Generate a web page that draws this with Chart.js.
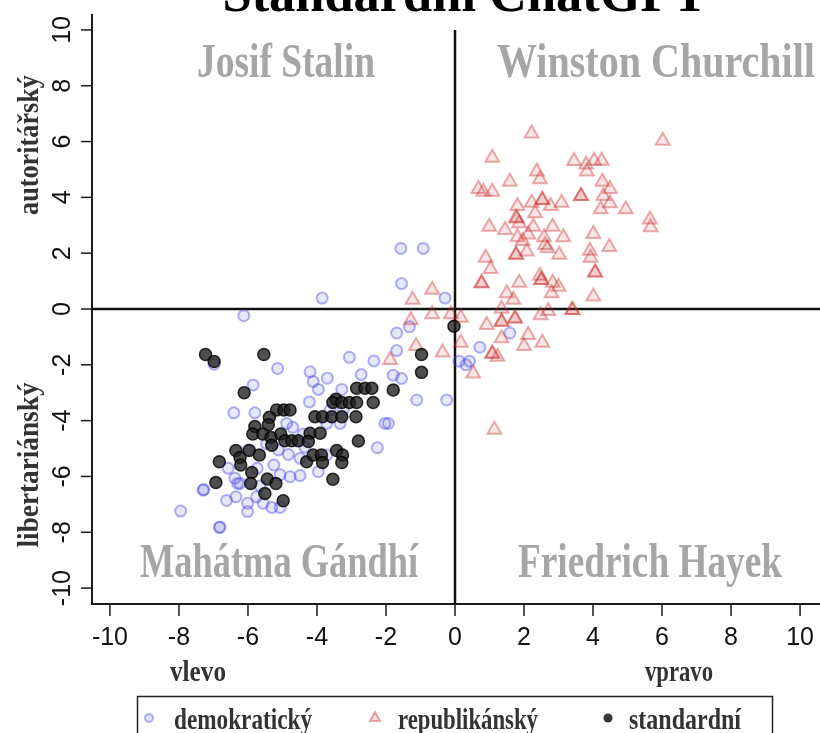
<!DOCTYPE html>
<html>
<head>
<meta charset="utf-8">
<script src="https://cdn.jsdelivr.net/npm/chart.js@4.4.1/dist/chart.umd.min.js"></script>
<style>
  html, body { margin: 0; padding: 0; background: #fff; }
  canvas { display: block; }
</style>
</head>
<body>
<canvas id="compassChart" width="820" height="733"></canvas>
<script>
// Data (x = vlevo/vpravo, y = libertariánský/autoritářský)
const titleText = "Standardní ChatGPT";
const seriesNames = ["demokratický", "republikánský", "standardní"];
const quadrantNames = ["Josif Stalin", "Winston Churchill", "Mahátma Gándhí", "Friedrich Hayek"];
const xTicks = [-10, -8, -6, -4, -2, 0, 2, 4, 6, 8, 10];
const yTicks = [-10, -8, -6, -4, -2, 0, 2, 4, 6, 8, 10];

const demX = [-1.57, -0.92, -1.55, -0.29, -1.32, -1.69, 1.59, -1.69, 0.72, 0.12, 0.32, 0.42, -1.79, -1.55, -1.11, -0.24, -2.03, -1.93,
  -3.85, -6.12, -6.98, -5.14, -4.20, -4.11, -3.96, -5.85, -6.41, -5.80, -4.22, -4.88, -4.70, -4.39, -5.46, -5.12, -4.83, -4.49,
  -5.99, -6.57, -5.73, -5.25, -3.96, -6.38, -6.23, -5.07, -4.78, -4.49, -5.65, -7.30, -6.35, -6.62, -5.75, -6.01, -6.01, -5.56,
  -5.31, -5.07, -7.95, -6.83, -3.06, -2.35, -3.70, -2.72, -3.28, -3.72, -3.33, -3.62, -3.24, -2.25, -3.72, -4.35,
  -7.28, -6.81, -6.30];
const demY = [2.17, 2.17, 0.91, 0.39, -0.64, -0.86, -0.86, -1.49, -1.37, -1.87, -2.00, -1.87, -2.37, -2.49, -3.26, -3.26, -4.10, -4.10,
  0.39, -0.24, -1.98, -2.13, -2.25, -2.60, -2.88, -2.72, -3.72, -3.72, -3.33, -4.10, -4.24, -4.48, -4.82, -5.05, -5.21, -5.35,
  -5.05, -5.71, -5.71, -5.59, -5.83, -6.06, -6.25, -5.94, -6.01, -5.97, -6.34, -6.49, -6.73, -6.86, -6.73, -6.96, -7.26, -6.96,
  -7.11, -7.11, -7.24, -7.83, -1.73, -1.86, -2.48, -2.35, -2.88, -4.10, -4.10, -3.62, -3.62, -4.97, -5.23, -4.95,
  -6.47, -7.81, -6.25];

const repX = [2.22, 6.02, 1.08, 3.45, 3.80, 4.03, 4.25, 3.82, 2.37, 2.46, 1.59, 4.27, 0.68, 0.82, 1.08, 4.49, 3.65, 4.30, 2.53, 2.22,
  1.81, 2.77, 3.09, 4.49, 4.22, 4.95, 2.32, 1.77, 1.86, 5.65, 5.67, 0.99, 1.45, 2.27, 2.83, 1.81, 2.12, 2.58, 3.14, 4.01, 1.96,
  2.61, 2.68, 4.47, 3.91, 3.93, 1.77, 2.08, 3.02, 0.89, 1.03, 4.06, 2.46, 2.51, 0.77, 1.86, 2.83, 3.00,
  -0.66, -1.23, -0.66, -0.12, 0.17, -1.28, -1.13, -1.88, -0.36, 0.17, 0.53, 0.92, 1.35, 1.74, 1.35, 2.12, 2.53, 2.00, 1.08, 1.23,
  1.14, 2.48, 2.70, 3.40, 1.35, 1.69, 1.50, 4.01, 2.80,
  3.65, 2.53, 1.77, 4.06, 0.77, 1.35, 1.74, 1.08, 3.40, 2.49, 1.79];
const repY = [6.29, 6.03, 5.42, 5.30, 5.18, 5.31, 5.31, 4.93, 4.93, 4.65, 4.56, 4.56, 4.30, 4.20, 4.20, 4.30, 4.05, 4.05, 3.91, 3.81,
  3.69, 3.69, 3.81, 3.79, 3.57, 3.57, 3.43, 3.27, 3.07, 3.21, 2.93, 2.95, 2.83, 2.95, 2.95, 2.57, 2.67, 2.57, 2.57, 2.69, 2.44,
  2.29, 2.18, 2.22, 2.09, 1.84, 1.94, 2.06, 1.94, 1.84, 1.43, 1.31, 1.19, 1.04, 0.92, 0.94, 0.94, 0.80,
  0.69, 0.33, -0.19, -0.19, -0.31, -0.40, -1.33, -1.83, -1.56, -1.21, -2.31, -0.57, -0.46, -0.34, -1.05, -0.93, -1.21, -1.33, -1.60, -1.71,
  -4.33, -0.22, -0.07, -0.04, 0.01, 0.33, 0.56, 0.45, 0.56,
  4.05, 3.91, 1.94, 1.31, 0.92, -0.46, -0.34, -1.60, -0.04, 1.04, 3.24];

const stdX = [-0.03, -0.97, -0.97, -1.79, -7.23, -6.98, -5.54, -6.11, -5.17, -4.96, -4.78, -5.38, -5.80, -5.41, -5.86, -5.57, -5.33,
  -5.05, -5.31, -4.93, -4.73, -4.54, -6.35, -5.96, -5.67, -6.23, -6.21, -6.83, -5.89, -6.93, -5.92, -5.44, -5.19, -5.51, -4.98,
  -4.30, -4.11, -2.85, -2.61, -2.41, -3.45, -3.54, -3.28, -3.06, -2.85, -2.37, -4.06, -3.84, -3.57, -3.28, -2.87, -4.20, -3.91,
  -4.25, -2.80, -3.87, -3.84, -3.43, -3.26, -3.28, -3.54];
const stdY = [-0.62, -1.63, -2.27, -2.90, -1.63, -1.88, -1.63, -3.00, -3.62, -3.62, -3.62, -3.88, -4.21, -4.15, -4.48, -4.48, -4.60,
  -4.48, -4.88, -4.72, -4.72, -4.72, -5.07, -5.07, -5.23, -5.32, -5.59, -5.47, -5.86, -6.22, -6.25, -6.09, -6.25, -6.61, -6.87,
  -5.47, -5.23, -2.84, -2.84, -2.84, -3.23, -3.35, -3.35, -3.35, -3.35, -3.35, -3.86, -3.86, -3.86, -3.86, -3.86, -4.45, -4.45,
  -4.75, -4.73, -5.23, -5.50, -5.07, -5.23, -5.50, -6.10];

function toPoints(xs, ys) {
    return xs.map((x, i) => ({ x: x, y: ys[i] }));
}

const serifFont = "'Liberation Serif', 'Times New Roman', serif";
const sansFont = "'Liberation Sans', Arial, sans-serif";

// draw text squeezed/stretched to a given width (the reference uses a narrow serif)
function fitText(ctx, text, cx, cy, font, width, color, rotate) {
    ctx.save();
    ctx.font = font;
    ctx.fillStyle = color;
    ctx.textAlign = "center";
    ctx.textBaseline = "alphabetic";
    const w = ctx.measureText(text).width;
    ctx.translate(cx, cy);
    if (rotate) ctx.rotate(-Math.PI / 2);
    ctx.scale(width / w, 1);
    ctx.fillText(text, 0, 0);
    ctx.restore();
}

const compassPlugin = {
    id: "compass",
    beforeDatasetsDraw(chart) {
        const ctx = chart.ctx;
        const xs = chart.scales.x, ys = chart.scales.y;
        const area = chart.chartArea;
        ctx.save();
        ctx.strokeStyle = "#1a1a1a";
        ctx.lineWidth = 2;
        // L shaped frame
        ctx.beginPath();
        ctx.moveTo(area.left, area.top);
        ctx.lineTo(area.left, area.bottom);
        ctx.lineTo(chart.width, area.bottom);
        ctx.stroke();
        // tick marks
        ctx.lineWidth = 1.5;
        xTicks.forEach(v => {
            const px = xs.getPixelForValue(v);
            ctx.beginPath();
            ctx.moveTo(px, area.bottom);
            ctx.lineTo(px, area.bottom + 12);
            ctx.stroke();
        });
        yTicks.forEach(v => {
            const py = ys.getPixelForValue(v);
            ctx.beginPath();
            ctx.moveTo(area.left, py);
            ctx.lineTo(area.left - 11, py);
            ctx.stroke();
        });
        // zero lines
        ctx.strokeStyle = "#111";
        ctx.lineWidth = 2.5;
        ctx.beginPath();
        ctx.moveTo(area.left, ys.getPixelForValue(0));
        ctx.lineTo(chart.width, ys.getPixelForValue(0));
        ctx.moveTo(xs.getPixelForValue(0), ys.getPixelForValue(10));
        ctx.lineTo(xs.getPixelForValue(0), area.bottom);
        ctx.stroke();

        // tick labels
        ctx.fillStyle = "#111";
        ctx.font = "25px " + sansFont;
        ctx.textAlign = "center";
        ctx.textBaseline = "middle";
        xTicks.forEach(v => {
            ctx.fillText(String(v), xs.getPixelForValue(v), 638);
        });
        yTicks.forEach(v => {
            ctx.save();
            ctx.translate(63, ys.getPixelForValue(v));
            ctx.rotate(-Math.PI / 2);
            ctx.fillText(String(v), 0, 0);
            ctx.restore();
        });
        ctx.restore();

        // quadrant names
        const grey = "#a6a6a6";
        const qFont = "bold 48px " + serifFont;
        fitText(ctx, quadrantNames[0], 286, 77, qFont, 178, grey);
        fitText(ctx, quadrantNames[1], 656, 77, qFont, 318, grey);
        fitText(ctx, quadrantNames[2], 279, 577, qFont, 278, grey);
        fitText(ctx, quadrantNames[3], 650, 577, qFont, 264, grey);
    },
    afterDatasetsDraw(chart) {
        const ctx = chart.ctx;
        // title, cut at the top edge like in the picture
        fitText(ctx, titleText, 465, 11, "bold 52px " + serifFont, 485, "#000");

        // axis names
        const aFont = "bold 30px " + serifFont;
        const dark = "#333";
        fitText(ctx, "autoritářský", 38, 145, aFont, 140, dark, true);
        fitText(ctx, "libertariánský", 38, 465, aFont, 165, dark, true);
        fitText(ctx, "vlevo", 198, 681, aFont, 56, dark);
        fitText(ctx, "vpravo", 679, 681, aFont, 68, dark);

        // legend box
        ctx.save();
        ctx.strokeStyle = "#222";
        ctx.lineWidth = 1.5;
        ctx.strokeRect(137.5, 696.5, 635, 60);
        ctx.lineWidth = 2;
        ctx.strokeStyle = "rgba(70,70,230,0.4)";
        ctx.fillStyle = "rgba(70,70,230,0.15)";
        ctx.beginPath();
        ctx.arc(149, 718, 4, 0, Math.PI * 2);
        ctx.fill();
        ctx.stroke();
        ctx.strokeStyle = "rgba(200,40,40,0.4)";
        ctx.fillStyle = "rgba(200,40,40,0.15)";
        ctx.beginPath();
        ctx.moveTo(375, 712);
        ctx.lineTo(380, 721);
        ctx.lineTo(370, 721);
        ctx.closePath();
        ctx.fill();
        ctx.stroke();
        ctx.fillStyle = "rgba(20,20,20,0.85)";
        ctx.beginPath();
        ctx.arc(608, 718, 4.5, 0, Math.PI * 2);
        ctx.fill();
        ctx.restore();
        fitText(ctx, seriesNames[0], 174 + 69, 729, aFont, 138, dark);
        fitText(ctx, seriesNames[1], 398 + 70, 729, aFont, 140, dark);
        fitText(ctx, seriesNames[2], 629 + 56, 729, aFont, 112, dark);
    }
};

document.addEventListener("DOMContentLoaded", function () {
    const ctx = document.getElementById("compassChart").getContext("2d");

    const data = {
        datasets: [
            {
                label: seriesNames[0],
                data: toPoints(demX, demY),
                pointStyle: "circle",
                pointRadius: 5.5,
                borderWidth: 2,
                borderColor: "rgba(70,70,225,0.42)",
                backgroundColor: "rgba(70,70,225,0.13)",
                order: 3
            },
            {
                label: seriesNames[1],
                data: toPoints(repX, repY),
                pointStyle: "triangle",
                pointRadius: 8,
                borderWidth: 2,
                borderColor: "rgba(200,40,40,0.38)",
                backgroundColor: "rgba(200,40,40,0.12)",
                order: 2
            },
            {
                label: seriesNames[2],
                data: toPoints(stdX, stdY),
                pointStyle: "circle",
                pointRadius: 6,
                borderWidth: 1.5,
                borderColor: "rgba(0,0,0,0.8)",
                backgroundColor: "rgba(30,30,30,0.78)",
                order: 1
            }
        ]
    };

    new Chart(ctx, {
        type: "scatter",
        data: data,
        options: {
            responsive: false,
            animation: false,
            devicePixelRatio: 1,
            layout: { autoPadding: false, padding: { left: 92, top: 14, right: 2, bottom: 129 } },
            plugins: { legend: { display: false }, tooltip: { enabled: false } },
            scales: {
                x: { type: "linear", min: -10.52, max: 10.52, display: false },
                y: { type: "linear", min: -10.57, max: 10.57, display: false }
            }
        },
        plugins: [compassPlugin]
    });
});
</script>
</body>
</html>
